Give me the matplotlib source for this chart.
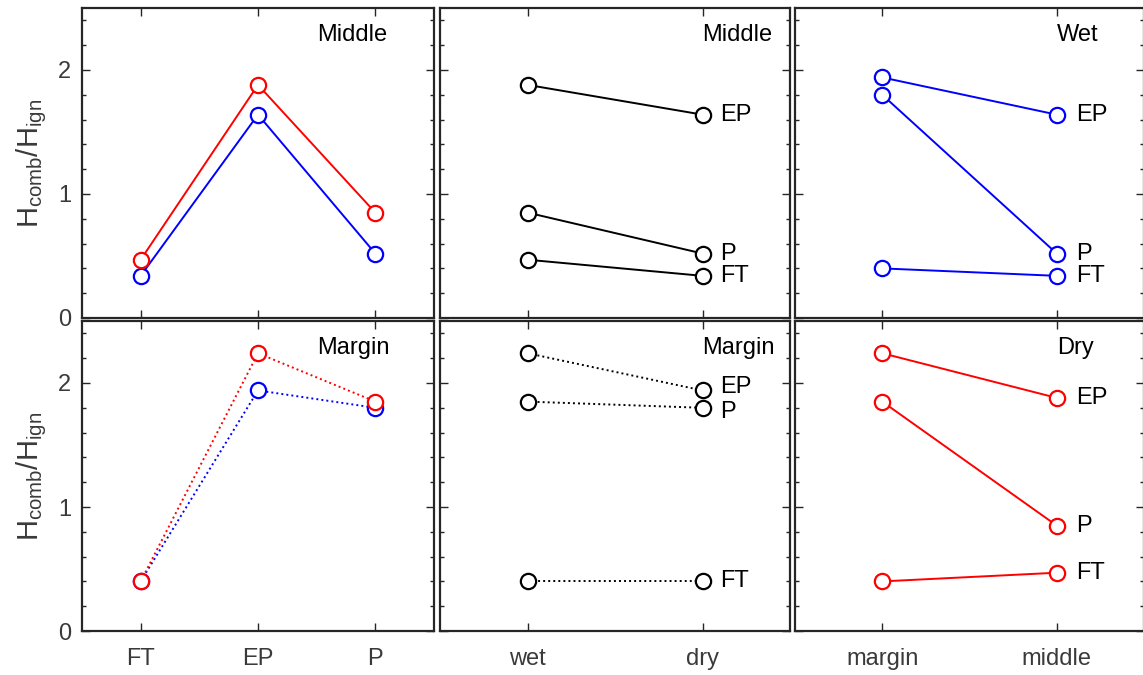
import matplotlib
matplotlib.use("Agg")
import matplotlib.pyplot as plt
from matplotlib.ticker import MultipleLocator

plt.rcParams['font.family'] = ['Liberation Sans', 'DejaVu Sans']
plt.rcParams['mathtext.fontset'] = 'custom'
plt.rcParams['mathtext.rm'] = 'Liberation Sans'
plt.rcParams['mathtext.it'] = 'Liberation Sans'

# data
categories = ['FT', 'EP', 'P']
mid_red = [0.47, 1.88, 0.85]
mid_blue = [0.34, 1.64, 0.52]
mar_red = [0.40, 2.24, 1.85]
mar_blue = [0.40, 1.94, 1.80]
weather_ticks = ['wet', 'dry']
site_ticks = ['margin', 'middle']

RED = '#ff0000'
BLUE = '#0000ff'
BLACK = '#000000'
FRAME = '#262626'
TICKCOL = '#3a3a3a'

fig = plt.figure(figsize=(11.43, 6.75), dpi=100)
fig.patch.set_facecolor('white')

lefts = [82, 440, 795]
widths = [352, 350, 349]
tops = [8, 321]
height = 310

axes = []
for r in range(2):
    row = []
    for c in range(3):
        x0 = lefts[c] / 1143
        y0 = (675 - tops[r] - height) / 675
        ax = fig.add_axes([x0, y0, widths[c] / 1143, height / 675])
        row.append(ax)
    axes.append(row)

line_kw = dict(marker='o', markersize=11, markerfacecolor='white',
               markeredgewidth=1.6, linewidth=1.4)
solid = '-'
dotted = (0, (1, 1.6))


def style(ax, xlim, xticks, xlabels, show_x, show_y):
    ax.set_xlim(*xlim)
    ax.set_ylim(0, 2.5)
    ax.set_xticks(xticks)
    ax.set_yticks([0, 1, 2])
    ax.yaxis.set_minor_locator(MultipleLocator(0.2))
    ax.tick_params(which='both', direction='in', top=True, right=True,
                   colors=FRAME, labelcolor=TICKCOL, labelsize=17, width=1.0)
    ax.tick_params(which='major', length=6)
    ax.tick_params(which='minor', length=3)
    ax.tick_params(axis='x', pad=12)
    ax.tick_params(axis='y', pad=8)
    if show_x:
        ax.set_xticklabels(xlabels)
    else:
        ax.set_xticklabels([])
    if not show_y:
        ax.set_yticklabels([])
    for s in ax.spines.values():
        s.set_color(FRAME)
        s.set_linewidth(1.6)


x3 = [1, 2, 3]
# left column: categories
for r, (blue, red, ls, name) in enumerate([(mid_blue, mid_red, solid, 'Middle'),
                                          (mar_blue, mar_red, dotted, 'Margin')]):
    ax = axes[r][0]
    ax.plot(x3, blue, color=BLUE, linestyle=ls, **line_kw)
    ax.plot(x3, red, color=RED, linestyle=ls, **line_kw)
    style(ax, (0.5, 3.5), x3, categories, r == 1, True)
    ax.text(2.5, 2.28, name, ha='left', va='center', fontsize=17, color=BLACK)
    ax.set_ylabel(r'H$_{\mathrm{comb}}$/H$_{\mathrm{ign}}$', fontsize=21,
                  color=TICKCOL, labelpad=6)

# middle column: wet vs dry
nudge = {'EP': 0.03, 'P': -0.03, 'FT': 0.0}
for r, (red, blue, ls, name) in enumerate([(mid_red, mid_blue, solid, 'Middle'),
                                          (mar_red, mar_blue, dotted, 'Margin')]):
    ax = axes[r][1]
    for i, cat in enumerate(categories):
        ax.plot([1, 2], [red[i], blue[i]], color=BLACK, linestyle=ls, **line_kw)
        dy = nudge[cat] if r == 1 else 0.0
        ax.text(2.1, blue[i] + dy, cat, ha='left', va='center', fontsize=17, color=BLACK)
    style(ax, (0.5, 2.5), [1, 2], weather_ticks, r == 1, False)
    ax.text(2.0, 2.28, name, ha='left', va='center', fontsize=17, color=BLACK)

# right column: margin vs middle
for r, (mar, mid, col, name) in enumerate([(mar_blue, mid_blue, BLUE, 'Wet'),
                                          (mar_red, mid_red, RED, 'Dry')]):
    ax = axes[r][2]
    for i, cat in enumerate(categories):
        ax.plot([1, 2], [mar[i], mid[i]], color=col, linestyle=solid, **line_kw)
        ax.text(2.11, mid[i], cat, ha='left', va='center', fontsize=17, color=BLACK)
    style(ax, (0.5, 2.5), [1, 2], site_ticks, r == 1, False)
    ax.text(2.0, 2.28, name, ha='left', va='center', fontsize=17, color=BLACK)

fig.savefig('out.png', dpi=100, facecolor='white')
